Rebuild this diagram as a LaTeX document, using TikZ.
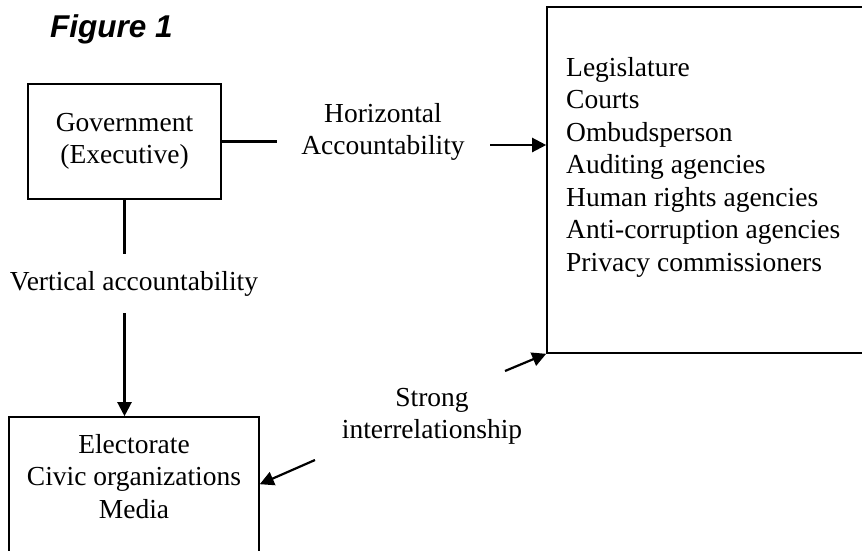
\documentclass[tikz,border=0pt]{standalone}
\usepackage{fontspec}
\setmainfont{Liberation Serif}
\newfontfamily\figfont{Liberation Sans}
\usetikzlibrary{arrows.meta,calc}
\begin{document}
\begin{tikzpicture}[x=1pt,y=-1pt,
  box/.style={draw, line width=1.6pt, inner sep=0pt},
  txt/.style={font=\fontsize{27.5}{32.5}\selectfont, inner sep=0pt},
  conn/.style={line width=2.2pt},
  arr/.style={conn, -{Triangle[length=14pt,width=14pt]}}]
\clip (0,0) rectangle (862,550);
\node[font=\figfont\fontsize{31.5}{36}\selectfont\bfseries\itshape, anchor=base west, inner sep=0pt] (fig) at (50,37) {Figure 1};
\node[box, minimum width=193pt, minimum height=115pt, txt, align=center] (gov) at (124.5,141.5) {Government\\(Executive)};
\node[box, minimum width=330pt, minimum height=346pt] (ctrl) at (712,180) {};
\node[txt, align=left, anchor=north west] (list) at (566,57) {Legislature\\Courts\\Ombudsperson\\Auditing agencies\\Human rights agencies\\Anti-corruption agencies\\Privacy commissioners};
\node[box, minimum width=250pt, minimum height=180pt] (elec) at (134,507) {};
\node[txt, align=center, anchor=north] (electxt) at (134,434) {Electorate\\Civic organizations\\Media};
\node[txt, align=center, anchor=north] (horiz) at (383,103) {Horizontal\\Accountability};
\node[txt, anchor=base] (vert) at (134,290) {Vertical accountability};
\node[txt, align=center, anchor=north] (strong) at (432,388) {Strong\\interrelationship};
\coordinate (h1) at (277,141.5);
\coordinate (h2) at (490,145);
\coordinate (v1) at (124.5,254);
\coordinate (v2) at (124.5,313);
\coordinate (s1) at (505,371);
\coordinate (s2) at (315,460);
\draw[conn] (gov.east) -- (h1);
\draw[arr] (h2) -- (h2 -| ctrl.west);
\draw[conn] (gov.south) -- (v1);
\draw[arr] (v2) -- (v2 |- elec.north);
\draw[arr] (s1) -- (ctrl.south west);
\draw[arr] (s2) -- ($(elec.north east)+(0,68)$);
\end{tikzpicture}
\end{document}
